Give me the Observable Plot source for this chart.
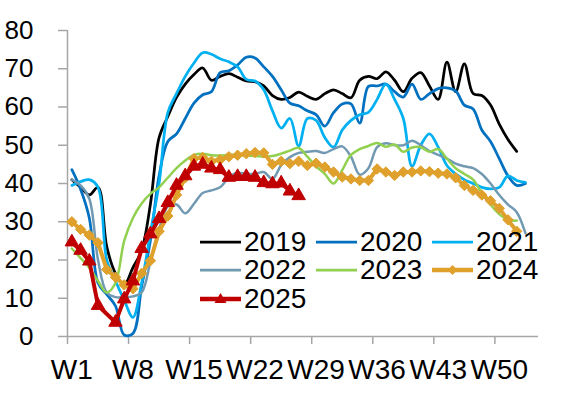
<!DOCTYPE html>
<html><head><meta charset="utf-8">
<script src="https://cdn.jsdelivr.net/npm/d3@7"></script>
<script src="https://cdn.jsdelivr.net/npm/@observablehq/plot@0.6"></script>
<style>
body{margin:0;background:#fff;font-family:"Liberation Sans",Arial,sans-serif;}
#chart{position:relative;width:576px;height:395px;overflow:hidden;}
.item{position:absolute;display:flex;align-items:center;height:28px;font-size:28px;line-height:28px;color:#000;white-space:nowrap;}
.item svg{margin-right:3px;display:block;}
</style></head><body><div id="chart"></div>
<script>
// ---- data ----
const years = ["2019","2020","2021","2022","2023","2024","2025"];
const colors = ["#000000","#0070C0","#00B0F0","#7299B2","#92D050","#DFA02C","#C00000"];
const tickWeeks = [1,8,15,22,29,36,43,50];
const tickLabels = ["W1","W8","W15","W22","W29","W36","W43","W50"];
const yTicks = [0,10,20,30,40,50,60,70,80];

const s2019 = [41,39,37,39,23.5,16.5,13.5,18,22.5,34.5,52,57.5,62.5,66,68.5,70.2,67,68,68.7,67.8,66.8,66.6,65.5,63,62,62.5,63.9,62.8,62,63.5,64.5,63.5,62.4,67,68,67.4,69.2,67,64,67.5,69,65.5,62,71.7,64,71.3,63.5,63,60.5,55.5,51.5,48.4];
const s2020 = [43.6,38.5,31,14,11,8,0.4,0.8,13,25,42,51,53,57,61,63.2,64,69,69.5,71,73,72.8,70.5,68,64.5,61,60.3,59,58,55,58.5,60.8,60.8,55.8,65.4,65.5,66,64,62.6,66,62,63.5,64.8,65,64.2,60.5,59.5,54,51,46.5,42,39.5,40];
const s2021 = [39.5,40.5,41,39,20,14.5,9.5,5,14,27,40,58.5,63.5,68,71.5,74.2,73.8,72.6,71.8,70.5,67.2,66.8,64.5,59,54.5,57,49.8,57,56.5,52,49.5,54,56.5,58,58.6,62,66,62,57,44.5,50,53,49.5,44.7,42.5,41,40,39,38.6,39,42,40.8,40.3];
const s2022 = [41,39.5,36,20,11.5,10.3,10.3,10.5,11.5,19.5,28,34,34.5,32.2,34.7,37.5,38.2,39,41.6,42.8,42.5,42.5,43,41.2,44.8,46.9,48,48.3,48.5,48,49,49.7,47,42.3,44,49.5,50.5,50,50,51.2,50,48.5,47.5,46.5,45.2,44.5,44,42.5,40,37,34.5,32.5,27];
const s2023 = [23,20.5,18,14.5,11.5,14,25,31,34.8,37.3,39,41.5,44,46,47.5,47.8,47.4,47.3,47.5,47.5,47.3,47.2,47,47.2,47.8,48.6,49.3,47,44.5,42.5,40,43.5,47.5,49,49.8,50.6,49.6,50.2,48.3,49.4,49.5,48.3,49,46.5,44,42.5,41,37.5,34.5,32,30.5,30.3];
const s2024 = [30,28,26.5,24.5,17.5,15.5,13.5,12.5,16.5,19.8,27.5,31.5,37,41.5,46.5,46.8,45.8,46.2,47,47.4,47.8,48.1,48,45,45.8,45.2,45.8,44.7,45.3,44.3,43,41.7,41.2,40.8,40.8,43.8,43,42.1,43,43,43.3,43.1,42.7,42.5,41.5,39.5,38.2,37,35.5,33.5,30.5,27.5];
const s2025 = [24.7,22.5,19.7,8.1,null,3.7,9.8,14.5,23,26.8,30.8,35,39.5,42,44.5,45,44,43.6,41.6,41.8,41.8,41.6,40.2,39.9,40.1,38,36.8];

const seriesValues = [s2019,s2020,s2021,s2022,s2023,s2024,s2025];
const styleOf = {
  "2019":{w:2.75,curve:"catmull-rom"},
  "2020":{w:2.75,curve:"catmull-rom"},
  "2021":{w:2.75,curve:"catmull-rom"},
  "2022":{w:2.5,curve:"catmull-rom"},
  "2023":{w:2.5,curve:"catmull-rom"},
  "2024":{w:4,curve:"linear",symbol:"diamond2",r:4.7},
  "2025":{w:4,curve:"linear",symbol:"triangle",r:5}
};

const rows = years.flatMap((y,k)=>seriesValues[k].map((v,i)=>({year:y,week:i+1,value:v})).filter(d=>d.value!=null));

const labelOf = new Map(tickWeeks.map((w,i)=>[w,tickLabels[i]]));
const marks = [
  Plot.ruleX([0.5],{stroke:"#A6A6A6",strokeWidth:1.5}),
  Plot.ruleY([0],{stroke:"#A6A6A6",strokeWidth:1.5}),
  Plot.axisY({ticks:yTicks,tickSize:9,tickPadding:25,fontSize:26,stroke:"#A6A6A6",strokeWidth:1.5,fill:"#000",label:null}),
  Plot.axisX({ticks:tickWeeks.map(w=>w-0.5),tickSize:8,tickFormat:()=>"",stroke:"#A6A6A6",strokeWidth:1.5,label:null}),
  Plot.axisX({ticks:tickWeeks,tickSize:0,tickPadding:23,tickFormat:d=>labelOf.get(d),fontSize:28,fill:"#000",label:null})
];
years.forEach((y,k)=>{
  const st = styleOf[y];
  const data = rows.filter(d=>d.year===y);
  marks.push(Plot.line(data,{x:"week",y:"value",stroke:colors[k],strokeWidth:st.w,curve:st.curve}));
  if (st.symbol) marks.push(Plot.dot(data,{x:"week",y:"value",symbol:st.symbol,r:st.r,fill:colors[k],stroke:colors[k],strokeWidth:1}));
});

const plot = Plot.plot({
  width:576,height:395,marginLeft:67,marginRight:38,marginTop:30,marginBottom:59,
  style:{fontFamily:"'Liberation Sans', Arial, sans-serif",background:"white",overflow:"visible"},
  x:{domain:[0.5,54.5]},
  y:{domain:[0,80]},
  marks
});
const chart = document.getElementById("chart");
chart.appendChild(plot);

// ---- legend (inside plot area) ----
const legCols = [200,316,432], legRows = [241.5,270,298.5];
years.forEach((y,k)=>{
  const st = styleOf[y];
  const c = colors[k];
  const item = document.createElement("div");
  item.className = "item";
  item.style.left = legCols[k%3]+"px";
  item.style.top = (legRows[Math.floor(k/3)]-14)+"px";
  let marker = "";
  if (st.symbol==="diamond2") marker = `<path d="M20.5,2L25.5,7L20.5,12L15.5,7Z" fill="${c}"/>`;
  if (st.symbol==="triangle") marker = `<path d="M20.5,1L26.5,11L14.5,11Z" fill="${c}"/>`;
  item.innerHTML = `<svg width="41" height="14"><line x1="0" x2="41" y1="7" y2="7" stroke="${c}" stroke-width="${st.symbol?4.5:2.75}"/>${marker}</svg><span>${y}</span>`;
  chart.appendChild(item);
});
</script>
</body></html>
